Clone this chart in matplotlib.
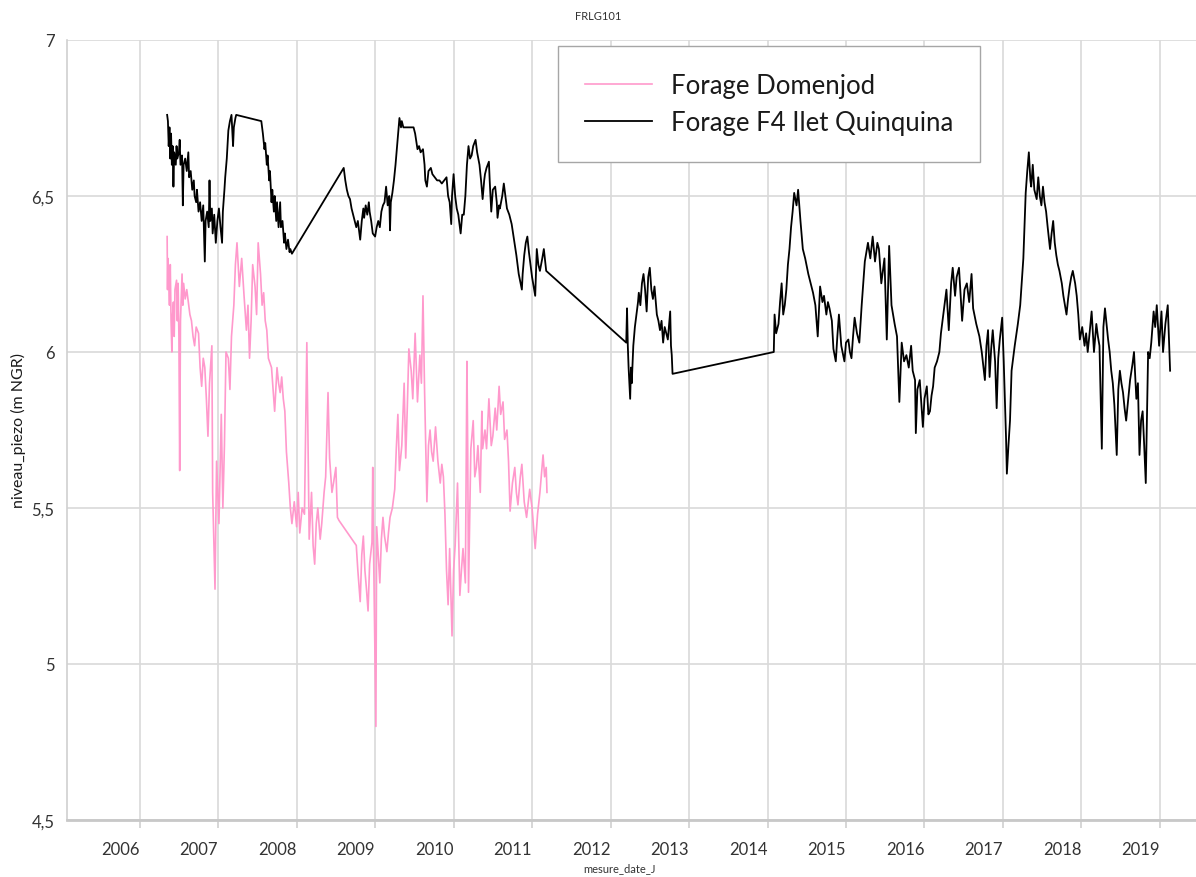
import matplotlib
matplotlib.use("Agg")
from matplotlib import pyplot as plt

plt.rcParams['font.family'] = ['Lato', 'DejaVu Sans']

# niveau piezo, dates in decimal years
quinquina_date = [
    2006.35, 2006.36, 2006.37, 2006.38, 2006.39, 2006.40, 2006.41, 2006.42, 2006.43, 2006.44,
    2006.46, 2006.47, 2006.48, 2006.50, 2006.51, 2006.52, 2006.54, 2006.55, 2006.56, 2006.58,
    2006.60, 2006.62, 2006.63, 2006.65, 2006.67, 2006.69, 2006.70, 2006.72, 2006.73, 2006.75,
    2006.77, 2006.79, 2006.81, 2006.83, 2006.84, 2006.86, 2006.88, 2006.89, 2006.90, 2006.92,
    2006.93, 2006.95, 2006.97, 2006.99, 2007.01, 2007.03, 2007.05, 2007.06, 2007.08, 2007.09,
    2007.11, 2007.13, 2007.15, 2007.17, 2007.19, 2007.20, 2007.22, 2007.23,
    2007.55, 2007.57, 2007.59, 2007.60, 2007.62, 2007.63, 2007.65, 2007.66, 2007.68, 2007.69,
    2007.71, 2007.72, 2007.74, 2007.75, 2007.77, 2007.79, 2007.80, 2007.82, 2007.84, 2007.85,
    2007.87, 2007.89, 2007.91, 2007.92, 2007.94,
    2008.60, 2008.62, 2008.64, 2008.66, 2008.68, 2008.70, 2008.72, 2008.74, 2008.76, 2008.78,
    2008.80, 2008.81, 2008.83, 2008.85, 2008.86, 2008.88, 2008.90, 2008.92, 2008.93, 2008.95,
    2008.97, 2009.00, 2009.02, 2009.04, 2009.06, 2009.08, 2009.10, 2009.12, 2009.14, 2009.16,
    2009.18, 2009.19, 2009.20, 2009.22, 2009.24, 2009.26, 2009.28, 2009.30, 2009.31, 2009.33,
    2009.34, 2009.36, 2009.49, 2009.51, 2009.54, 2009.56, 2009.58, 2009.61, 2009.63, 2009.64,
    2009.66, 2009.68, 2009.71, 2009.73, 2009.76, 2009.79, 2009.82, 2009.85, 2009.88, 2009.91,
    2009.93, 2009.95, 2009.97, 2009.98, 2010.00, 2010.02, 2010.04, 2010.06, 2010.08, 2010.09,
    2010.11, 2010.13, 2010.15, 2010.17, 2010.19, 2010.21, 2010.23, 2010.25, 2010.28, 2010.30,
    2010.33, 2010.35, 2010.37, 2010.39, 2010.40, 2010.42, 2010.45, 2010.46, 2010.48, 2010.50,
    2010.53, 2010.55, 2010.56, 2010.58, 2010.59, 2010.62, 2010.64, 2010.66, 2010.68, 2010.71,
    2010.74, 2010.77, 2010.80, 2010.83, 2010.87, 2010.88, 2010.90, 2010.92, 2010.94, 2010.96,
    2010.97, 2011.00, 2011.04, 2011.06, 2011.08, 2011.10, 2011.13, 2011.15, 2011.18,
    2012.20, 2012.21, 2012.22, 2012.23, 2012.25, 2012.26, 2012.27, 2012.29, 2012.31, 2012.33,
    2012.35, 2012.36, 2012.38, 2012.40, 2012.42, 2012.44, 2012.46, 2012.48, 2012.50, 2012.52,
    2012.54, 2012.56, 2012.59, 2012.61, 2012.63, 2012.65, 2012.67, 2012.69, 2012.71, 2012.73,
    2012.76, 2012.77, 2012.78, 2012.79,
    2014.08, 2014.09, 2014.11, 2014.14, 2014.16, 2014.18, 2014.20, 2014.22, 2014.24, 2014.26,
    2014.28, 2014.30, 2014.32, 2014.34, 2014.37, 2014.39, 2014.42, 2014.45, 2014.48, 2014.52,
    2014.55, 2014.58, 2014.61, 2014.64, 2014.67, 2014.70, 2014.72, 2014.75, 2014.77, 2014.79,
    2014.82, 2014.84, 2014.87, 2014.89, 2014.91, 2014.94, 2014.98, 2015.00, 2015.03, 2015.05,
    2015.07, 2015.09, 2015.11, 2015.14, 2015.17, 2015.20, 2015.22, 2015.24, 2015.26, 2015.28,
    2015.31, 2015.34, 2015.37, 2015.40, 2015.42, 2015.45, 2015.49, 2015.52, 2015.55, 2015.58,
    2015.62, 2015.65, 2015.68, 2015.71, 2015.74, 2015.77, 2015.80, 2015.83, 2015.85, 2015.88,
    2015.89, 2015.91, 2015.94, 2015.98, 2016.00, 2016.03, 2016.05, 2016.07, 2016.09, 2016.11,
    2016.13, 2016.16, 2016.19, 2016.21, 2016.24, 2016.26, 2016.28, 2016.31, 2016.34, 2016.36,
    2016.39, 2016.41, 2016.44, 2016.48, 2016.51, 2016.54, 2016.57, 2016.60, 2016.62, 2016.66,
    2016.70, 2016.73, 2016.77, 2016.79, 2016.81, 2016.83, 2016.85, 2016.87, 2016.90, 2016.92,
    2016.94, 2016.96, 2016.99, 2017.01, 2017.04, 2017.05, 2017.07, 2017.09, 2017.11, 2017.15,
    2017.19, 2017.22, 2017.26, 2017.29, 2017.31, 2017.33, 2017.35, 2017.36, 2017.38, 2017.40,
    2017.43, 2017.45, 2017.47, 2017.49, 2017.51, 2017.53, 2017.55, 2017.57, 2017.60, 2017.62,
    2017.64, 2017.66, 2017.68, 2017.70, 2017.72, 2017.75, 2017.77, 2017.79, 2017.81, 2017.83,
    2017.85, 2017.87, 2017.89, 2017.92, 2017.94, 2017.96, 2017.98, 2018.01, 2018.04, 2018.06,
    2018.08, 2018.10, 2018.13, 2018.16, 2018.19, 2018.21, 2018.23, 2018.26, 2018.28, 2018.30,
    2018.32, 2018.34, 2018.36, 2018.38, 2018.40, 2018.42, 2018.45, 2018.47, 2018.49, 2018.51,
    2018.53, 2018.55, 2018.57, 2018.60, 2018.62, 2018.65, 2018.67, 2018.70, 2018.72, 2018.74,
    2018.76, 2018.78, 2018.80, 2018.82, 2018.85, 2018.87, 2018.89, 2018.92, 2018.94, 2018.96,
    2018.99, 2019.02, 2019.04, 2019.07, 2019.10, 2019.13,
]
quinquina_niveau = [
    6.76, 6.74, 6.66, 6.72, 6.62, 6.70, 6.60, 6.66, 6.53, 6.64,
    6.60, 6.66, 6.62, 6.64, 6.68, 6.60, 6.63, 6.47, 6.60, 6.62,
    6.58, 6.64, 6.56, 6.58, 6.52, 6.55, 6.50, 6.48, 6.52, 6.45,
    6.48, 6.42, 6.47, 6.29, 6.42, 6.45, 6.40, 6.55, 6.42, 6.46,
    6.38, 6.44, 6.35, 6.42, 6.46, 6.40, 6.35, 6.45, 6.52, 6.56,
    6.62, 6.71, 6.74, 6.76, 6.66, 6.72, 6.75, 6.76,
    6.74, 6.70, 6.65, 6.67, 6.60, 6.63, 6.55, 6.58, 6.48, 6.52,
    6.45, 6.50, 6.42, 6.48, 6.40, 6.48, 6.40, 6.42, 6.35, 6.38,
    6.33, 6.36, 6.32, 6.33, 6.315,
    6.59, 6.55, 6.52, 6.50, 6.49, 6.46, 6.44, 6.42, 6.40, 6.42,
    6.38, 6.36, 6.42, 6.46, 6.43, 6.47, 6.44, 6.48, 6.45, 6.42,
    6.38, 6.37, 6.40, 6.42, 6.40, 6.45, 6.47, 6.48, 6.53, 6.47,
    6.50, 6.39, 6.48, 6.51, 6.55, 6.60, 6.66, 6.72, 6.75, 6.72,
    6.74, 6.72, 6.72, 6.70, 6.65, 6.66, 6.64, 6.65, 6.60, 6.55,
    6.53, 6.58, 6.59, 6.57, 6.56, 6.55, 6.55, 6.54, 6.55, 6.56,
    6.50, 6.48, 6.41, 6.50, 6.57, 6.50, 6.46, 6.44, 6.40, 6.38,
    6.44, 6.44, 6.50, 6.60, 6.66, 6.62, 6.63, 6.66, 6.68, 6.64,
    6.60, 6.55, 6.49, 6.55, 6.57, 6.59, 6.61, 6.55, 6.45, 6.52,
    6.53, 6.48, 6.43, 6.47, 6.46, 6.50, 6.54, 6.50, 6.46, 6.44,
    6.41, 6.36, 6.31, 6.25, 6.20, 6.25, 6.31, 6.35, 6.37, 6.32,
    6.30, 6.24, 6.18, 6.33, 6.28, 6.26, 6.30, 6.33, 6.26,
    6.03, 6.14, 6.02, 5.95, 5.85, 5.95, 5.90, 6.02, 6.08, 6.12,
    6.16, 6.19, 6.15, 6.22, 6.25, 6.20, 6.13, 6.24, 6.27, 6.20,
    6.17, 6.21, 6.12, 6.10, 6.07, 6.10, 6.03, 6.08, 6.06, 6.04,
    6.13, 6.02, 5.99, 5.93,
    6.00, 6.12, 6.06, 6.09, 6.16, 6.22, 6.12, 6.15, 6.20, 6.28,
    6.33, 6.40, 6.45, 6.51, 6.47, 6.52, 6.42, 6.33, 6.30, 6.25,
    6.22, 6.19, 6.15, 6.05, 6.21, 6.16, 6.18, 6.12, 6.16, 6.14,
    6.10, 6.01, 5.97, 6.05, 6.12, 6.02, 5.97, 6.03, 6.04, 6.00,
    5.98, 6.05, 6.11, 6.06, 6.03, 6.15, 6.22, 6.29, 6.32, 6.35,
    6.30, 6.37, 6.29, 6.35, 6.33, 6.22, 6.30, 6.04, 6.34, 6.15,
    6.09, 6.05, 5.84, 6.03, 5.97, 5.99, 5.95, 6.02, 5.94, 5.91,
    5.74, 5.88, 5.91, 5.76, 5.85, 5.89, 5.80, 5.81, 5.86, 5.89,
    5.95, 5.97, 6.00, 6.06, 6.12, 6.16, 6.20, 6.07, 6.22, 6.27,
    6.18, 6.24, 6.27, 6.10, 6.20, 6.22, 6.16, 6.25, 6.14, 6.09,
    6.05, 6.00, 5.91, 6.02, 6.07, 5.92, 6.01, 6.07, 5.97, 5.82,
    5.98, 6.04, 6.11, 5.97, 5.72, 5.61, 5.70, 5.78, 5.94, 6.02,
    6.09, 6.15, 6.30, 6.51, 6.58, 6.64, 6.55, 6.53, 6.60, 6.52,
    6.49, 6.56, 6.50, 6.47, 6.53, 6.48, 6.45, 6.40, 6.33, 6.38,
    6.42, 6.35, 6.31, 6.28, 6.26, 6.22, 6.18, 6.15, 6.12, 6.17,
    6.21, 6.24, 6.26, 6.22, 6.18, 6.12, 6.04, 6.08, 6.02, 6.06,
    6.00, 6.05, 6.13, 6.00, 6.09, 6.05, 6.02, 5.69, 6.08, 6.14,
    6.09, 6.04, 6.00, 5.94, 5.90, 5.83, 5.67, 5.88, 5.94, 5.90,
    5.87, 5.82, 5.78, 5.86, 5.91, 5.96, 6.00, 5.85, 5.90, 5.67,
    5.78, 5.81, 5.70, 5.58, 6.00, 5.98, 6.03, 6.13, 6.08, 6.15,
    6.02, 6.13, 6.00, 6.09, 6.15, 5.94,
]

domenjod_date = [
    2006.350, 2006.355, 2006.36, 2006.37, 2006.38, 2006.39, 2006.40, 2006.41, 2006.42, 2006.43,
    2006.44, 2006.45, 2006.47, 2006.48, 2006.49, 2006.50, 2006.51, 2006.52, 2006.54, 2006.55,
    2006.56, 2006.58, 2006.60, 2006.62, 2006.64, 2006.66, 2006.68, 2006.70, 2006.72, 2006.75,
    2006.77, 2006.79, 2006.81, 2006.83, 2006.85, 2006.87, 2006.89, 2006.92, 2006.93, 2006.96,
    2006.98, 2007.01, 2007.04, 2007.06, 2007.08, 2007.10, 2007.13, 2007.15, 2007.17, 2007.20,
    2007.22, 2007.24, 2007.27, 2007.30, 2007.33, 2007.36, 2007.38, 2007.40, 2007.42, 2007.44,
    2007.47, 2007.49, 2007.51, 2007.54, 2007.56, 2007.58, 2007.60, 2007.62, 2007.64, 2007.68,
    2007.70, 2007.72, 2007.75, 2007.77, 2007.79, 2007.81, 2007.83, 2007.85, 2007.87, 2007.90,
    2007.92, 2007.94, 2007.97, 2008.00, 2008.02, 2008.04, 2008.07, 2008.10, 2008.13, 2008.16,
    2008.19, 2008.21, 2008.23, 2008.25, 2008.27, 2008.30, 2008.32, 2008.35, 2008.37, 2008.40,
    2008.42, 2008.45, 2008.47, 2008.50, 2008.52, 2008.54,
    2008.76, 2008.78, 2008.81, 2008.83, 2008.85, 2008.87, 2008.89, 2008.91, 2008.93, 2008.96,
    2008.97, 2008.98, 2009.01, 2009.02, 2009.04, 2009.06, 2009.08, 2009.10, 2009.12, 2009.15,
    2009.17, 2009.19, 2009.22, 2009.25, 2009.27, 2009.29, 2009.31, 2009.34, 2009.37, 2009.39,
    2009.41, 2009.43, 2009.46, 2009.48, 2009.51, 2009.54, 2009.57, 2009.59, 2009.61, 2009.63,
    2009.66, 2009.68, 2009.70, 2009.72, 2009.74, 2009.77, 2009.80, 2009.83, 2009.85, 2009.87,
    2009.89, 2009.91, 2009.93, 2009.95, 2009.98, 2010.00, 2010.02, 2010.05, 2010.08, 2010.10,
    2010.12, 2010.15, 2010.17, 2010.18, 2010.19, 2010.22, 2010.25, 2010.27, 2010.29, 2010.31,
    2010.34, 2010.36, 2010.37, 2010.40, 2010.42, 2010.45, 2010.48, 2010.50, 2010.53, 2010.55,
    2010.58, 2010.60, 2010.63, 2010.65, 2010.68, 2010.70, 2010.72, 2010.75, 2010.78, 2010.80,
    2010.82, 2010.85, 2010.87, 2010.90, 2010.93, 2010.97, 2011.00, 2011.04, 2011.07, 2011.10,
    2011.14, 2011.16, 2011.18, 2011.19,
]
domenjod_niveau = [
    6.37, 6.20, 6.30, 6.23, 6.15, 6.28, 6.10, 6.00, 6.12, 6.16,
    6.05, 6.20, 6.23, 6.10, 6.22, 6.05, 5.62, 6.10, 6.25, 6.15,
    6.22, 6.17, 6.20, 6.16, 6.12, 6.10, 6.05, 6.02, 6.08, 6.06,
    5.95, 5.89, 5.98, 5.95, 5.85, 5.73, 5.90, 6.02, 5.55, 5.24,
    5.65, 5.45, 5.80, 5.50, 5.70, 6.00, 5.98, 5.88, 6.05, 6.15,
    6.28, 6.35, 6.21, 6.30, 6.18, 6.07, 6.15, 5.98, 6.10, 6.28,
    6.21, 6.12, 6.35, 6.25, 6.15, 6.19, 6.10, 6.07, 5.98, 5.95,
    5.88, 5.81, 5.95, 5.90, 5.87, 5.92, 5.85, 5.81, 5.68, 5.58,
    5.50, 5.45, 5.52, 5.44, 5.55, 5.42, 5.50, 5.48, 6.03, 5.40,
    5.55, 5.38, 5.32, 5.45, 5.50, 5.40, 5.45, 5.55, 5.60, 5.87,
    5.66, 5.55, 5.58, 5.63, 5.47, 5.46,
    5.38, 5.30, 5.20, 5.35, 5.41, 5.30, 5.24, 5.17, 5.32, 5.39,
    5.63, 5.37, 4.80, 5.44, 5.35, 5.26, 5.40, 5.47, 5.41, 5.36,
    5.42, 5.47, 5.50, 5.56, 5.69, 5.80, 5.62, 5.70, 5.90, 5.66,
    5.82, 6.01, 5.94, 5.85, 6.06, 5.84, 5.99, 5.90, 6.18, 5.88,
    5.52, 5.70, 5.75, 5.68, 5.65, 5.76, 5.65, 5.58, 5.64, 5.60,
    5.48, 5.30, 5.19, 5.37, 5.09, 5.30, 5.38, 5.58, 5.22, 5.30,
    5.37, 5.26, 5.97, 5.69, 5.23, 5.69, 5.78, 5.60, 5.63, 5.70,
    5.55, 5.81, 5.69, 5.75, 5.69, 5.85, 5.70, 5.73, 5.82, 5.75,
    5.89, 5.80, 5.84, 5.72, 5.75, 5.65, 5.49, 5.58, 5.63, 5.55,
    5.51, 5.60, 5.64, 5.52, 5.47, 5.56, 5.50, 5.37, 5.48, 5.55,
    5.67, 5.60, 5.63, 5.55,
]

years = list(range(2006, 2020))
y_ticks = [4.5, 5, 5.5, 6, 6.5, 7]
y_labels = ["4,5", "5", "5,5", "6", "6,5", "7"]

fig = plt.figure(figsize=(11.96, 8.78), dpi=100)
ax = fig.add_axes([67 / 1196, 1 - 821 / 878, 1 - 67 / 1196, (821 - 41) / 878])

ax.plot(domenjod_date, domenjod_niveau, color="#ff99cc", linewidth=1.2, label="Forage Domenjod")
ax.plot(quinquina_date, quinquina_niveau, color="black", linewidth=1.3, label="Forage F4 Ilet Quinquina")

ax.set_xlim(2005.074, 2019.46)
ax.set_ylim(4.5, 7)
ax.set_xticks(years)
ax.set_xticklabels([str(y) for y in years], ha="right")
ax.set_yticks(y_ticks)
ax.set_yticklabels(y_labels)

ax.grid(True, color="#d9d9d9", linewidth=1.2)
ax.set_axisbelow(True)
for side in ["top", "right"]:
    ax.spines[side].set_visible(False)
ax.spines["left"].set_color("#d0d0d0")
ax.spines["left"].set_linewidth(1.2)
ax.spines["bottom"].set_color("#c8c8c8")
ax.spines["bottom"].set_linewidth(2)
ax.tick_params(axis="x", length=6, width=1.2, color="#d0d0d0", pad=9,
               labelsize=12, labelcolor="#333333")
ax.tick_params(axis="y", length=0, pad=9, labelsize=12, labelcolor="#333333")

leg = ax.legend(loc="upper left", bbox_to_anchor=(558 / 1196, 1 - 47 / 878),
                bbox_transform=fig.transFigure, borderaxespad=0, fontsize=18.5,
                handlelength=2.6, handletextpad=0.75, borderpad=1.05,
                labelspacing=0.48, fancybox=False, framealpha=1)
leg.get_frame().set_edgecolor("#a6a6a6")
leg.get_frame().set_linewidth(1.0)
for t in leg.get_texts():
    t.set_color("#1a1a1a")

fig.text(598 / 1196, 1 - 16 / 878, "FRLG101", ha="center", va="center", fontsize=8, color="#333333")
fig.text(620 / 1196, 1 - 869 / 878, "mesure_date_J", ha="center", va="center", fontsize=8, color="#333333")
fig.text(18 / 1196, 1 - 430 / 878, "niveau_piezo (m NGR)", ha="center", va="center",
         rotation=90, fontsize=11.5, color="#1a1a1a")

fig.savefig("out.png", dpi=100)
